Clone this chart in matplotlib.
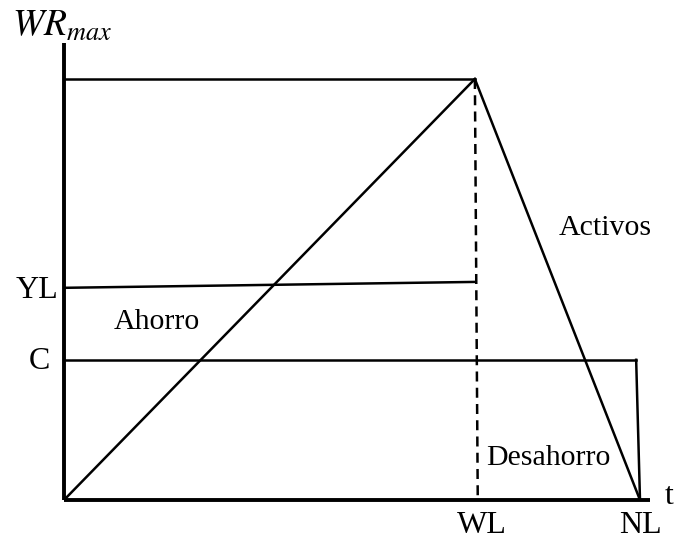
import matplotlib
matplotlib.use("Agg")
import matplotlib.pyplot as plt

# Conceptual values (t axis and wealth axis)
t_WL = 43.0
t_NL = 60.0
t_C_end = 59.6
WR_max = 100.0
YL_start, YL_end = 50.4, 51.8
C_level = 33.3
t_YL_end = 42.8
x_axis_end = 61.0
y_axis_end = 108.6

x_labels = ["WL", "NL"]
y_labels = ["YL", "C"]

plt.rcParams['mathtext.fontset'] = 'stix'
fig = plt.figure(figsize=(6.75, 5.4), dpi=100)
ax = fig.add_axes([64/675, 40/540, 611/675, 500/540])
ax.set_xlim(0, 611*60/576)
ax.set_ylim(0, 500*100/421)
ax.axis('off')

serif = 'Liberation Serif'
fs = 21.5
fl = 23

# axes
ax.plot([0, 0], [0, y_axis_end], color='black', lw=2.8, solid_capstyle='butt', clip_on=False)
ax.plot([0, x_axis_end], [0, 0], color='black', lw=2.8, solid_capstyle='butt', clip_on=False)

lw = 1.8
# top horizontal
ax.plot([0, t_WL - 0.2], [WR_max, WR_max], color='black', lw=lw)
# rising wealth
ax.plot([0, t_WL - 0.2], [0, WR_max], color='black', lw=lw)
# falling wealth
ax.plot([t_WL - 0.2, t_NL], [WR_max, 0], color='black', lw=lw)
# dashed vertical at WL
ax.plot([t_WL - 0.2, t_WL + 0.1], [WR_max, 0], color='black', lw=lw, ls=(0, (4, 2.5)))
# income line YL
ax.plot([0, t_YL_end], [YL_start, YL_end], color='black', lw=lw)
# consumption line C
ax.plot([0, t_C_end], [C_level, C_level], color='black', lw=lw)
ax.plot([t_C_end, t_NL], [C_level, 0], color='black', lw=lw)

# labels
ax.text(5.2, 42.3, "Ahorro", family=serif, fontsize=fs, ha='left', va='center')
ax.text(56.4, 64.6, "Activos", family=serif, fontsize=fs, ha='center', va='center')
ax.text(50.4, 10.0, "Desahorro", family=serif, fontsize=fs, ha='center', va='center')

ax.text(-0.6, 49.8, y_labels[0], family=serif, fontsize=fl, ha='right', va='center')
ax.text(-1.4, 33.0, y_labels[1], family=serif, fontsize=fl, ha='right', va='center')
ax.text(t_WL + 0.5, -6.0, x_labels[0], family=serif, fontsize=fl, ha='center', va='center')
ax.text(t_NL, -6.0, x_labels[1], family=serif, fontsize=fl, ha='center', va='center')
ax.text(63.0, 0.8, "t", family=serif, fontsize=fl, ha='center', va='center')

ax.text(-5.4, 112.5, r"$WR_{max}$", fontsize=27, ha='left', va='center')

fig.savefig("out.png", dpi=100)
